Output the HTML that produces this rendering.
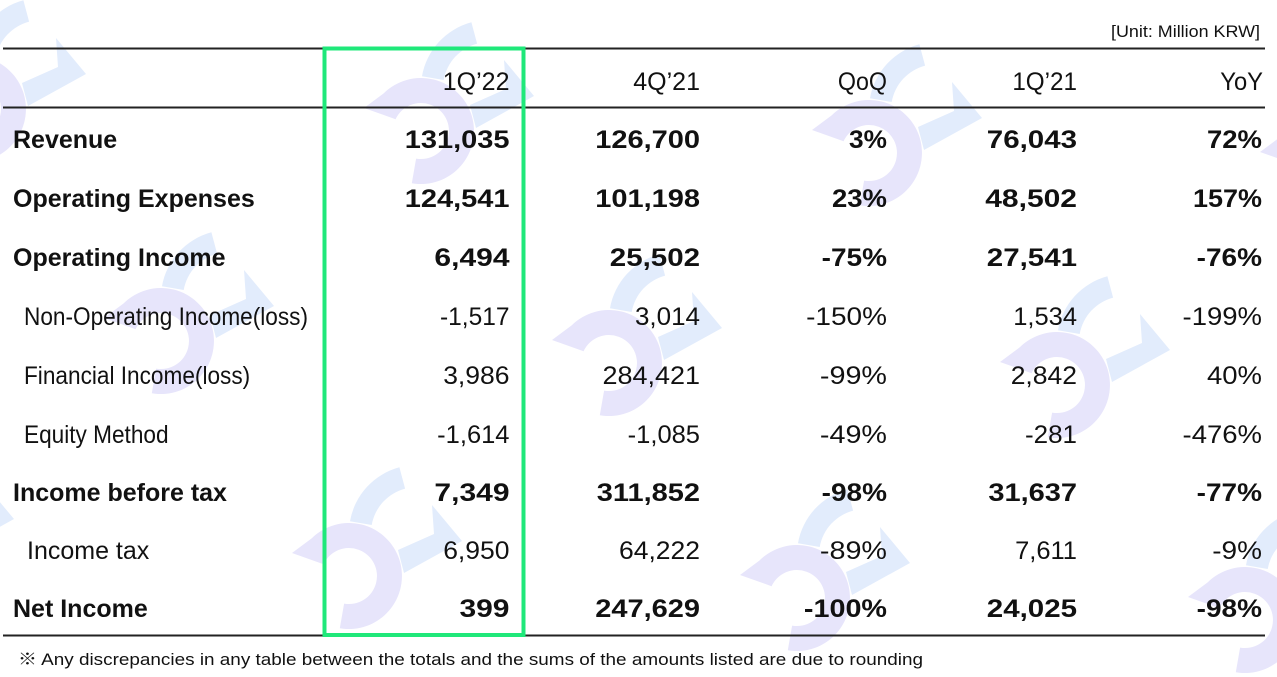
<!DOCTYPE html>
<html>
<head>
<meta charset="utf-8">
<style>
  html, body { margin: 0; padding: 0; background: #ffffff; }
  body { width: 1277px; height: 677px; overflow: hidden; }
  svg { display: block; }
  text { font-family: "Liberation Sans", "Noto Sans CJK JP", sans-serif; fill: #111111; }
  .b { font-weight: bold; font-size: 25px; }
  .r { font-weight: normal; font-size: 25px; }
</style>
</head>
<body>
<svg width="1277" height="677" viewBox="0 0 1277 677" xmlns="http://www.w3.org/2000/svg">
  <defs>
    <g id="wm">
      <path d="M0,75 L19.5,60.5 A53,53 0 1 1 47.8,150.2 L52.1,125.6 A28,28 0 1 0 31.6,86.2 Z" fill="#e7e5fb"/>
      <path d="M58,43.2 A68,68 0 0 1 107.4,-10.7 L113.1,10.6 A46,46 0 0 0 79.7,47 Z" fill="#e2ecfc"/>
      <path d="M140,27 L170,63 L112,95 L106,72 L142,56 Z" fill="#e2ecfc"/>
    </g>
  </defs>

  <!-- watermarks -->
  <use href="#wm" x="-84" y="11"/>
  <use href="#wm" x="364" y="33"/>
  <use href="#wm" x="812" y="55"/>
  <use href="#wm" x="1260" y="77"/>
  <use href="#wm" x="104" y="243"/>
  <use href="#wm" x="552" y="265"/>
  <use href="#wm" x="1000" y="287"/>
  <use href="#wm" x="-156" y="456"/>
  <use href="#wm" x="292" y="478"/>
  <use href="#wm" x="740" y="500"/>
  <use href="#wm" x="1188" y="522"/>

  <!-- unit -->
  <text x="1111" y="37" font-size="17" textLength="149" lengthAdjust="spacingAndGlyphs">[Unit: Million KRW]</text>

  <!-- rules -->
  <rect x="3" y="47.5" width="1262" height="2" fill="#222"/>
  <rect x="3" y="106.5" width="1262" height="2" fill="#222"/>
  <rect x="3" y="634.5" width="1262" height="2" fill="#222"/>

  <!-- header -->
  <g transform="translate(509.5,90) scale(1,1)"><text class="r" text-anchor="end">1Q’22</text></g>
  <g transform="translate(700,90) scale(1,1)"><text class="r" text-anchor="end">4Q’21</text></g>
  <g transform="translate(887,90) scale(0.93,1)"><text class="r" text-anchor="end">QoQ</text></g>
  <g transform="translate(1077,90) scale(0.97,1)"><text class="r" text-anchor="end">1Q’21</text></g>
  <g transform="translate(1263,90) scale(0.95,1)"><text class="r" text-anchor="end">YoY</text></g>

  <!-- Row 1: Revenue -->
  <text class="b" x="13" y="148">Revenue</text>
  <g transform="translate(509.5,148) scale(1.16,1)"><text class="b" text-anchor="end">131,035</text></g>
  <g transform="translate(700,148) scale(1.16,1)"><text class="b" text-anchor="end">126,700</text></g>
  <g transform="translate(887,148) scale(1.05,1)"><text class="b" text-anchor="end">3%</text></g>
  <g transform="translate(1077,148) scale(1.18,1)"><text class="b" text-anchor="end">76,043</text></g>
  <g transform="translate(1262,148) scale(1.1,1)"><text class="b" text-anchor="end">72%</text></g>

  <!-- Row 2 -->
  <text class="b" x="13" y="207">Operating Expenses</text>
  <g transform="translate(509.5,207) scale(1.16,1)"><text class="b" text-anchor="end">124,541</text></g>
  <g transform="translate(700,207) scale(1.16,1)"><text class="b" text-anchor="end">101,198</text></g>
  <g transform="translate(887,207) scale(1.1,1)"><text class="b" text-anchor="end">23%</text></g>
  <g transform="translate(1077,207) scale(1.2,1)"><text class="b" text-anchor="end">48,502</text></g>
  <g transform="translate(1262,207) scale(1.08,1)"><text class="b" text-anchor="end">157%</text></g>

  <!-- Row 3 -->
  <text class="b" x="13" y="266">Operating Income</text>
  <g transform="translate(509.5,266) scale(1.2,1)"><text class="b" text-anchor="end">6,494</text></g>
  <g transform="translate(700,266) scale(1.18,1)"><text class="b" text-anchor="end">25,502</text></g>
  <g transform="translate(887,266) scale(1.12,1)"><text class="b" text-anchor="end">-75%</text></g>
  <g transform="translate(1077,266) scale(1.18,1)"><text class="b" text-anchor="end">27,541</text></g>
  <g transform="translate(1262,266) scale(1.12,1)"><text class="b" text-anchor="end">-76%</text></g>

  <!-- Row 4 -->
  <g transform="translate(24,325) scale(0.905,1)"><text class="r">Non-Operating Income(loss)</text></g>
  <g transform="translate(509.5,325) scale(0.98,1)"><text class="r" text-anchor="end">-1,517</text></g>
  <g transform="translate(700,325) scale(1.04,1)"><text class="r" text-anchor="end">3,014</text></g>
  <g transform="translate(887,325) scale(1.12,1)"><text class="r" text-anchor="end">-150%</text></g>
  <g transform="translate(1077,325) scale(1.02,1)"><text class="r" text-anchor="end">1,534</text></g>
  <g transform="translate(1262,325) scale(1.1,1)"><text class="r" text-anchor="end">-199%</text></g>

  <!-- Row 5 -->
  <g transform="translate(24,384) scale(0.905,1)"><text class="r">Financial Income(loss)</text></g>
  <g transform="translate(509.5,384) scale(1.06,1)"><text class="r" text-anchor="end">3,986</text></g>
  <g transform="translate(700,384) scale(1.08,1)"><text class="r" text-anchor="end">284,421</text></g>
  <g transform="translate(887,384) scale(1.15,1)"><text class="r" text-anchor="end">-99%</text></g>
  <g transform="translate(1077,384) scale(1.06,1)"><text class="r" text-anchor="end">2,842</text></g>
  <g transform="translate(1262,384) scale(1.1,1)"><text class="r" text-anchor="end">40%</text></g>

  <!-- Row 6 -->
  <g transform="translate(24,443) scale(0.905,1)"><text class="r">Equity Method</text></g>
  <g transform="translate(509.5,443) scale(1.02,1)"><text class="r" text-anchor="end">-1,614</text></g>
  <g transform="translate(700,443) scale(1.02,1)"><text class="r" text-anchor="end">-1,085</text></g>
  <g transform="translate(887,443) scale(1.15,1)"><text class="r" text-anchor="end">-49%</text></g>
  <g transform="translate(1077,443) scale(1.04,1)"><text class="r" text-anchor="end">-281</text></g>
  <g transform="translate(1262,443) scale(1.1,1)"><text class="r" text-anchor="end">-476%</text></g>

  <!-- Row 7 -->
  <text class="b" x="13" y="501">Income before tax</text>
  <g transform="translate(509.5,501) scale(1.2,1)"><text class="b" text-anchor="end">7,349</text></g>
  <g transform="translate(700,501) scale(1.16,1)"><text class="b" text-anchor="end">311,852</text></g>
  <g transform="translate(887,501) scale(1.12,1)"><text class="b" text-anchor="end">-98%</text></g>
  <g transform="translate(1077,501) scale(1.16,1)"><text class="b" text-anchor="end">31,637</text></g>
  <g transform="translate(1262,501) scale(1.12,1)"><text class="b" text-anchor="end">-77%</text></g>

  <!-- Row 8 -->
  <text class="r" x="27" y="559" font-size="26">Income tax</text>
  <g transform="translate(509.5,559) scale(1.06,1)"><text class="r" text-anchor="end">6,950</text></g>
  <g transform="translate(700,559) scale(1.06,1)"><text class="r" text-anchor="end">64,222</text></g>
  <g transform="translate(887,559) scale(1.15,1)"><text class="r" text-anchor="end">-89%</text></g>
  <g transform="translate(1077,559) scale(1.02,1)"><text class="r" text-anchor="end">7,611</text></g>
  <g transform="translate(1262,559) scale(1.12,1)"><text class="r" text-anchor="end">-9%</text></g>

  <!-- Row 9 -->
  <text class="b" x="13" y="617">Net Income</text>
  <g transform="translate(509.5,617) scale(1.2,1)"><text class="b" text-anchor="end">399</text></g>
  <g transform="translate(700,617) scale(1.16,1)"><text class="b" text-anchor="end">247,629</text></g>
  <g transform="translate(887,617) scale(1.15,1)"><text class="b" text-anchor="end">-100%</text></g>
  <g transform="translate(1077,617) scale(1.18,1)"><text class="b" text-anchor="end">24,025</text></g>
  <g transform="translate(1262,617) scale(1.12,1)"><text class="b" text-anchor="end">-98%</text></g>

  <!-- green highlight box -->
  <rect x="324.5" y="48.5" width="199" height="586.5" fill="none" stroke="#1fe87a" stroke-width="4"/>

  <!-- footnote -->
  <text x="18" y="665" font-size="17" textLength="905" lengthAdjust="spacingAndGlyphs">※  Any discrepancies in any table between the totals and the sums of the amounts listed are due to rounding</text>
</svg>
</body>
</html>
